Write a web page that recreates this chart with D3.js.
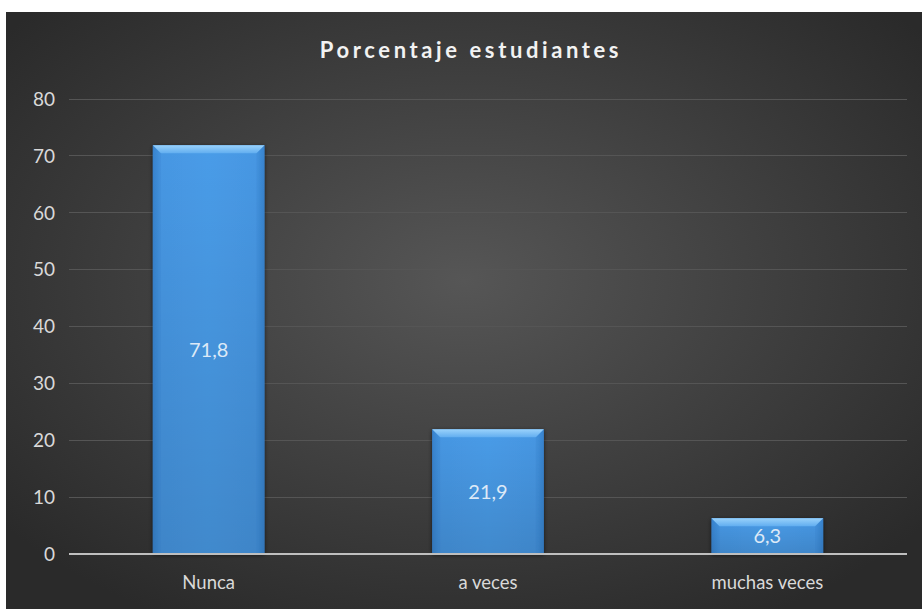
<!DOCTYPE html>
<html><head><meta charset="utf-8">
<script src="https://cdn.jsdelivr.net/npm/d3@7"></script>
<style>html,body{margin:0;padding:0;background:#fff;}svg{display:block;}</style>
</head><body>
<svg id="c" width="922" height="609"></svg>
<script>
const categories = ["Nunca", "a veces", "muchas veces"];
const values = [71.8, 21.9, 6.3];
const yTicks = [0, 10, 20, 30, 40, 50, 60, 70, 80];
const title = "Porcentaje estudiantes";

const svg = d3.select("#c");
const defs = svg.append("defs");
const FONT = "Lato, 'Open Sans', sans-serif";

const bg = defs.append("radialGradient").attr("id","bg")
  .attr("cx","50%").attr("cy","45%").attr("r","65%");
bg.append("stop").attr("offset","0%").attr("stop-color","#565656");
bg.append("stop").attr("offset","100%").attr("stop-color","#2a2a2a");

const barG = defs.append("linearGradient").attr("id","barG").attr("x1",0).attr("x2",1).attr("y1",0).attr("y2",0);
barG.append("stop").attr("offset","0%").attr("stop-color","#3a86d2");
barG.append("stop").attr("offset","6%").attr("stop-color","#4697e3");
barG.append("stop").attr("offset","50%").attr("stop-color","#4a9ce8");
barG.append("stop").attr("offset","94%").attr("stop-color","#4697e3");
barG.append("stop").attr("offset","100%").attr("stop-color","#3a86d2");

const shade = defs.append("linearGradient").attr("id","shade").attr("x1",0).attr("x2",0).attr("y1",0).attr("y2",1);
shade.append("stop").attr("offset","0%").attr("stop-color","#000").attr("stop-opacity",0);
shade.append("stop").attr("offset","100%").attr("stop-color","#000").attr("stop-opacity",0.12);

const bev = defs.append("linearGradient").attr("id","bev").attr("x1",0).attr("x2",0).attr("y1",0).attr("y2",1);
bev.append("stop").attr("offset","0%").attr("stop-color","#9ad2fb");
bev.append("stop").attr("offset","100%").attr("stop-color","#62aef0");

const sh = defs.append("filter").attr("id","sh").attr("x","-10%").attr("y","-10%").attr("width","120%").attr("height","120%");
sh.append("feGaussianBlur").attr("in","SourceAlpha").attr("stdDeviation",2).attr("result","b");
sh.append("feOffset").attr("in","b").attr("dx",0).attr("dy",1).attr("result","o");
sh.append("feComponentTransfer").attr("in","o").attr("result","o2")
  .append("feFuncA").attr("type","linear").attr("slope",0.6);
const m = sh.append("feMerge");
m.append("feMergeNode").attr("in","o2");
m.append("feMergeNode").attr("in","SourceGraphic");

// chart area
svg.append("rect").attr("x",6).attr("y",12).attr("width",916).attr("height",597).attr("fill","url(#bg)");

const x0 = 69, x1 = 907, yTop = 98.5, yBot = 554;
const x = d3.scaleBand().domain(categories).range([x0, x1]).paddingInner(0).paddingOuter(0);
const y = d3.scaleLinear().domain([0, 80]).range([yBot, yTop]);

// gridlines
svg.append("g").selectAll("line").data(yTicks.filter(d => d > 0)).join("line")
  .attr("x1", x0).attr("x2", x1)
  .attr("y1", d => Math.round(y(d)) + 0.5).attr("y2", d => Math.round(y(d)) + 0.5)
  .attr("stroke", "#555555").attr("stroke-width", 1);

// y axis labels
const yAxis = d3.axisLeft(y).tickValues(yTicks).tickSize(0).tickPadding(0);
const gy = svg.append("g").attr("transform", `translate(55,0)`).call(yAxis);
gy.select(".domain").remove();
gy.selectAll("text").attr("fill", "#d9d9d9").attr("font-family", FONT)
  .attr("font-size", 19).attr("dy", "0.35em");

// bars
const bw = x.bandwidth() * 0.4;
const bars = svg.append("g").selectAll("g").data(values).join("g")
  .attr("transform", (d, i) => `translate(${x(categories[i]) + x.bandwidth()/2 - bw/2},0)`);
bars.append("rect").attr("x", 0).attr("y", d => y(d)).attr("width", bw).attr("height", d => yBot - y(d))
  .attr("fill", "url(#barG)").attr("filter", "url(#sh)");
bars.append("rect").attr("x", 0).attr("y", d => y(d)).attr("width", bw).attr("height", d => yBot - y(d))
  .attr("fill", "url(#shade)");
bars.append("path").attr("d", d => {
  const t = y(d), h = 8;
  return `M0,${t} L${bw},${t} L${bw - h},${t + h} L${h},${t + h} Z`;
}).attr("fill", "url(#bev)");
bars.append("path").attr("d", d => {
  const t = y(d), h = 8;
  return `M0,${t} L${h},${t + h} L${h},${yBot} L0,${yBot} Z`;
}).attr("fill", "#2f74bd").attr("opacity", 0.18);
bars.append("path").attr("d", d => {
  const t = y(d), h = 8;
  return `M${bw},${t} L${bw - h},${t + h} L${bw - h},${yBot} L${bw},${yBot} Z`;
}).attr("fill", "#2f74bd").attr("opacity", 0.18);

// value labels
bars.append("text").attr("x", bw / 2).attr("y", d => (y(d) + yBot) / 2).attr("dy", "0.35em")
  .attr("text-anchor", "middle").attr("fill", "#dce9f7")
  .attr("font-family", FONT).attr("font-size", 20)
  .text(d => d3.format(".1f")(d).replace(".", ","));

// x axis
svg.append("line").attr("x1", x0).attr("x2", x1).attr("y1", yBot).attr("y2", yBot)
  .attr("stroke", "#bfbfbf").attr("stroke-width", 2);
const xAxis = d3.axisBottom(x).tickSize(0).tickPadding(0);
const gx = svg.append("g").attr("transform", `translate(0,${yBot + 29})`).call(xAxis);
gx.select(".domain").remove();
gx.selectAll("text").attr("fill", "#d9d9d9").attr("font-family", FONT)
  .attr("font-size", 18.5).attr("dy", "0.35em");

// title
svg.append("text").attr("x", 471).attr("y", 50).attr("dy", "0.35em").attr("text-anchor", "middle")
  .attr("fill", "#f2f2f2").attr("font-family", FONT)
  .attr("font-weight", "bold").attr("font-size", 22).attr("letter-spacing", 3.6)
  .text(title);
</script>
</body></html>
